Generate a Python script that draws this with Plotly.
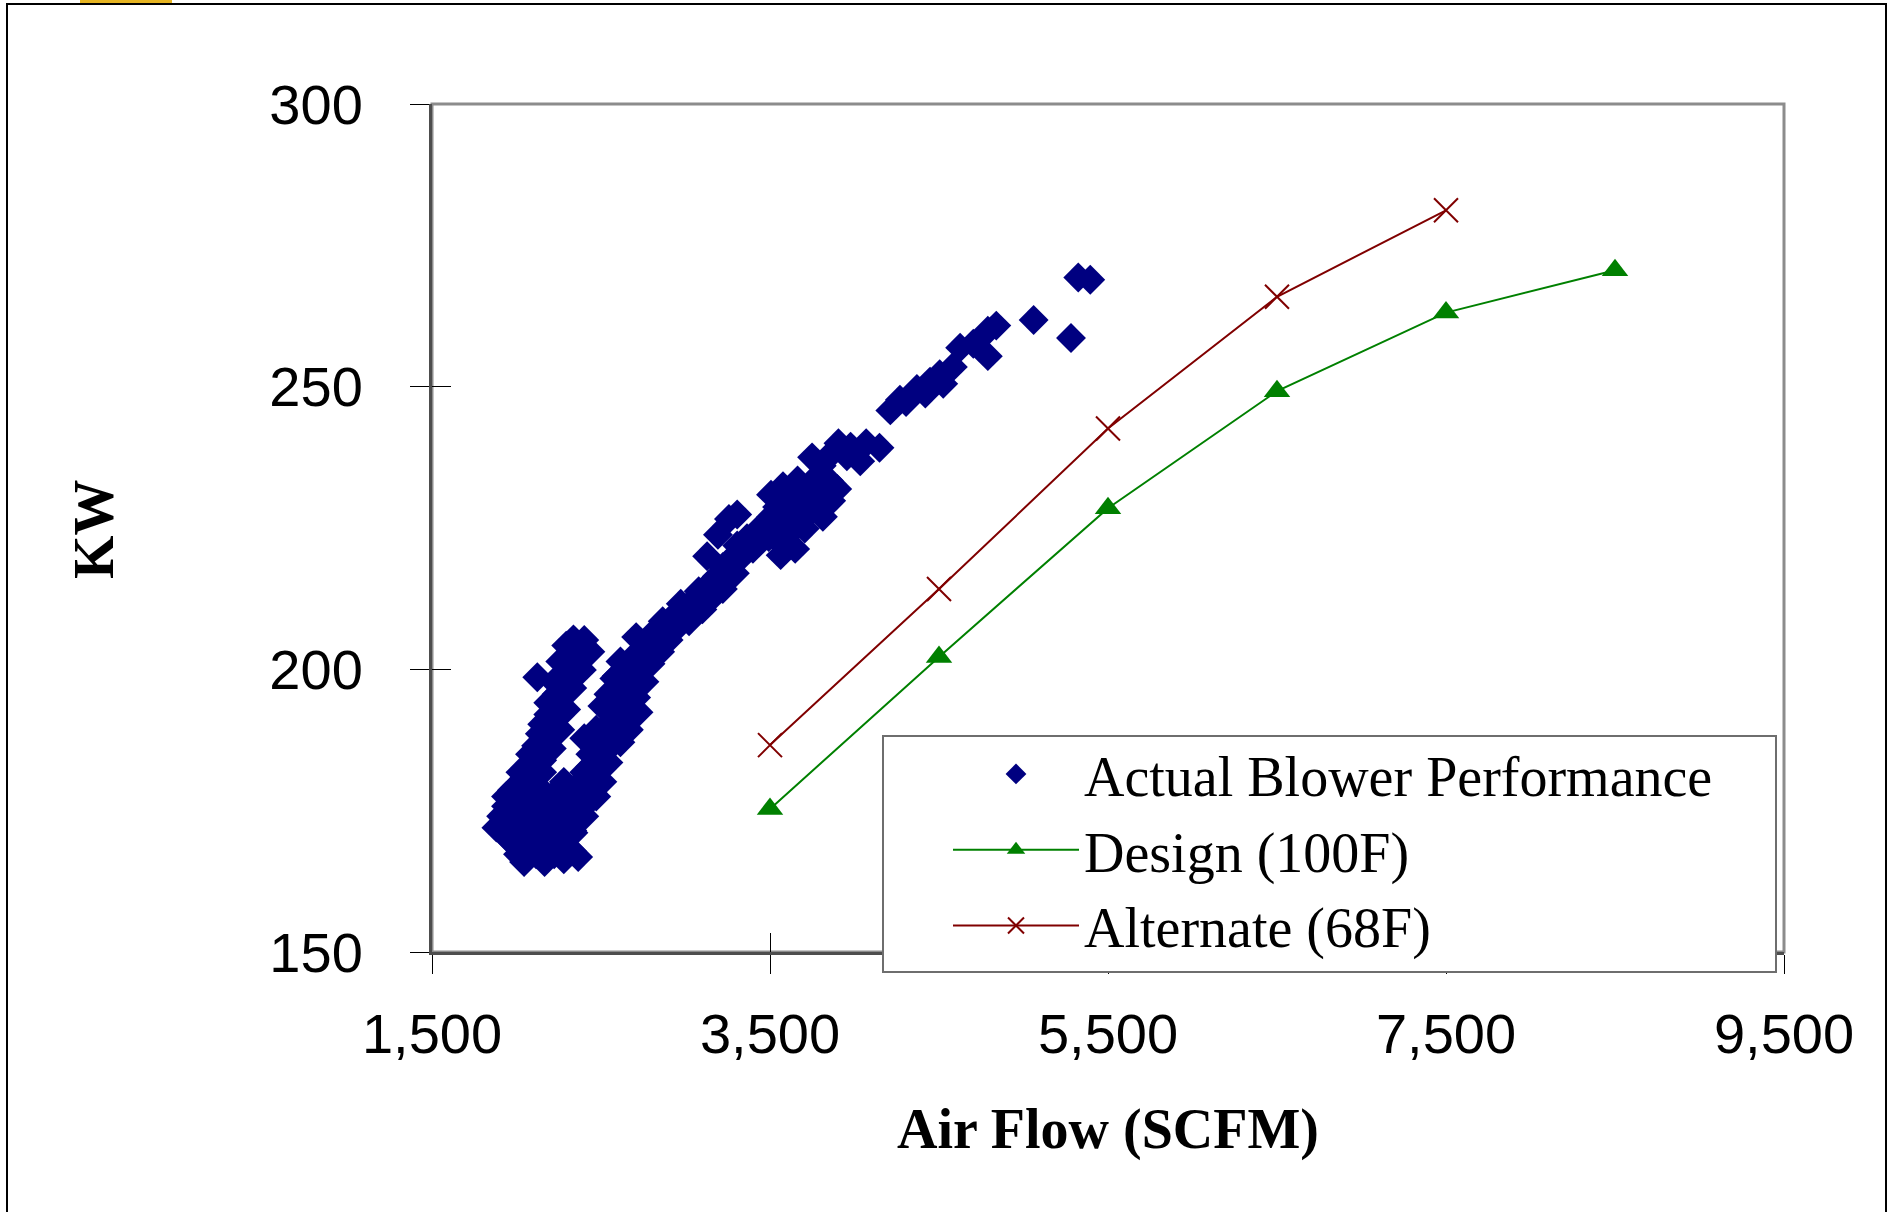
import plotly.graph_objects as go

# ---------------- data ----------------
actual_x = [
    5324, 5395, 5060, 5281, 4839, 4789, 4703, 4625, 4789, 4582, 4504, 4447, 4525, 4369, 4419, 4269, 4212, 4305,
    3905, 3977, 4069, 4148, 4034, 3955, 3862, 3749, 3806,
    3506, 3577, 3663, 3756, 3848, 3898, 3542, 3613, 3706, 3791, 3862, 3577, 3663, 3756, 3813, 3506, 3542, 3627,
    3706, 3577, 3649, 3563, 3492, 3449,
    3306, 3257, 3192, 3128, 3420, 3364, 3306, 3399, 3328, 3257, 3221, 3292, 3185, 3135, 3221, 3078, 3150, 3043,
    3100, 2993, 2936, 3021, 2936, 2865, 2829, 2900, 2793, 2850, 2757, 2708, 2686, 2793, 2722, 2651, 2757, 2665,
    2593, 2708, 2636, 2722, 2615, 2665,
    2972, 2900, 2757, 2686, 2615, 2615, 2579, 2544, 2579,
    2579, 2508, 2544, 2472, 2615, 2508, 2437, 2544, 2472, 2401, 2365, 2508, 2437, 2330, 2401, 2294, 2365, 2259, 2401,
    2636, 2565, 2494, 2437, 2351, 2308, 2237,
    2351, 2423, 2472, 2401, 2330, 2280, 2437, 2544, 2593, 2508,
    2337, 2401, 2294, 2437, 2351, 2259, 2387, 2294, 2223, 2330, 2259, 2188, 2294, 2209, 2152, 2259, 2166, 2116,
    2209, 2116, 2066, 2152, 2045, 1995, 2080, 1938, 2009, 1938, 1909, 1973, 1881, 1945, 2123,
    2365, 2308, 2237, 2188, 2138, 2080, 2023, 1973,
    2237, 2202, 2188, 2152, 2080,
    2080, 2188, 2138, 2223, 2045, 1973, 2080, 2188, 2294, 2009, 2116, 2223, 2330, 2045, 2166, 2280, 2365,
    2116, 2209, 2138, 2009, 2116, 2209, 1938, 2152, 2259, 2066, 2337, 2280,
]
actual_kw = [
    269.3, 268.9, 261.8, 258.6, 260.8, 259.9, 257.6, 256.9, 255.4, 253.5, 252.2, 250.9, 250.5, 249.6, 248.8, 247.7, 245.8, 247.3,
    240.0, 239.4, 240.0, 239.2, 236.8, 237.7, 238.1, 237.5, 236.0,
    230.9, 232.4, 233.4, 233.4, 233.4, 231.9, 228.7, 229.8, 230.9, 230.9, 229.8, 226.2, 227.6, 228.3, 227.0, 227.0, 224.4, 224.4,
    224.9, 221.9, 221.3, 220.2, 223.4, 224.4,
    227.4, 226.6, 223.8, 220.0, 224.4, 223.2, 221.9, 221.3, 219.8, 219.1, 218.1, 217.0, 216.4, 214.9, 214.2, 213.8, 212.5, 212.1,
    210.6, 210.6, 209.5, 208.5, 207.0, 208.5, 207.0, 205.2, 205.2, 203.1, 203.5, 205.7, 202.0, 201.0, 199.9, 199.9, 197.8, 197.8,
    198.8, 195.0, 194.6, 192.4, 191.4, 189.3,
    211.6, 208.5, 202.0, 198.8, 196.7, 201.4, 198.4, 195.6, 192.9,
    195.6, 193.5, 190.3, 189.3, 187.1, 186.0, 185.0, 183.5, 181.8, 181.8, 179.6, 180.1, 177.9, 177.5, 175.8, 174.9, 173.2, 172.1, 187.8,
    192.0, 187.8, 183.9, 180.7, 176.4, 173.2, 174.3,
    178.6, 179.6, 177.5, 174.0, 171.5, 170.0, 182.8, 186.0, 189.3, 187.8,
    205.3, 205.2, 204.2, 203.1, 202.0, 201.4, 199.9, 198.8, 197.8, 196.7, 195.0, 194.1, 192.9, 191.4, 190.3, 189.3, 187.8, 186.5,
    186.0, 183.9, 182.8, 181.8, 180.7, 179.2, 178.6, 177.5, 176.4, 175.8, 174.0, 173.6, 172.0, 170.3, 198.6,
    203.5, 200.5, 195.6, 192.0, 188.6, 185.0, 181.8, 178.6,
    192.6, 189.3, 186.0, 183.9, 180.1,
    175.4, 176.4, 173.2, 171.1, 171.1, 169.4, 169.0, 169.0, 170.0, 167.3, 167.3, 167.3, 167.8, 165.9, 165.9, 166.4, 166.8,
    179.6, 177.5, 175.8, 174.0, 171.1, 173.2, 171.5, 167.5, 169.0, 167.8, 171.1, 180.1,
]

design_x = [3500, 4500, 5500, 6500, 7500, 8500]
design_kw = [175.3, 202.2, 228.5, 249.2, 263.1, 270.6]

alternate_x = [3500, 4500, 5500, 6500, 7500]
alternate_kw = [186.6, 214.2, 242.6, 265.9, 281.2]

x_ticks = [1500, 3500, 5500, 7500, 9500]
y_ticks = [150, 200, 250, 300]

# ---------------- layout geometry (pixels) ----------------
W, H = 1889, 1212
L, R, T, B = 432, 1784, 104, 952
PW, PH = R - L, B - T


def px(xp):
    return (xp - L) / PW


def py(yp):
    return (B - yp) / PH


fig = go.Figure()

fig.add_trace(go.Scatter(
    x=actual_x, y=actual_kw, mode="markers", name="Actual Blower Performance",
    marker=dict(symbol="diamond", size=23, color="#000080", line=dict(width=0)),
))
fig.add_trace(go.Scatter(
    x=design_x, y=design_kw, mode="lines+markers", name="Design (100F)",
    line=dict(color="#008000", width=2),
    marker=dict(symbol="triangle-up", size=23, color="#008000"),
))
fig.add_trace(go.Scatter(
    x=alternate_x, y=alternate_kw, mode="lines+markers", name="Alternate (68F)",
    line=dict(color="#800000", width=2),
    marker=dict(symbol="x-thin", size=24, color="#800000", line=dict(color="#800000", width=2)),
))
# carrier for the inner half of the crossing tick marks
fig.add_trace(go.Scatter(x=[], y=[], xaxis="x2", yaxis="y2", showlegend=False, hoverinfo="skip"))

tick_font = dict(family="Liberation Sans, Arial", size=56, color="black")

fig.update_layout(
    width=W, height=H, autosize=False,
    margin=dict(l=L, r=W - R, t=T, b=H - B, pad=0),
    paper_bgcolor="white", plot_bgcolor="white",
    showlegend=True,
    xaxis=dict(
        range=[1500, 9500], tickvals=x_ticks, ticktext=[f"{v:,}" for v in x_ticks],
        ticks="outside", ticklen=19, tickwidth=1, tickcolor="black",
        showline=True, linecolor="#4d4d4d", linewidth=3,
        showgrid=False, zeroline=False, tickfont=tick_font, ticklabelstandoff=12,
    ),
    yaxis=dict(
        range=[150, 300], tickvals=y_ticks,
        ticks="outside", ticklen=19, tickwidth=1, tickcolor="black",
        showline=True, linecolor="#4d4d4d", linewidth=3,
        showgrid=False, zeroline=False, tickfont=tick_font, ticklabelstandoff=36,
    ),
    xaxis2=dict(
        range=[1500, 9500], tickvals=x_ticks, overlaying="x", anchor="y2", side="bottom",
        ticks="inside", ticklen=19, tickwidth=1, tickcolor="black",
        showticklabels=False, showline=False, showgrid=False, zeroline=False,
    ),
    yaxis2=dict(
        range=[150, 300], tickvals=y_ticks, overlaying="y", anchor="x2", side="left",
        ticks="inside", ticklen=19, tickwidth=1, tickcolor="black",
        showticklabels=False, showline=False, showgrid=False, zeroline=False,
    ),
    legend=dict(
        x=px(948), y=py(731), xanchor="left", yanchor="top",
        bgcolor="rgba(0,0,0,0)", borderwidth=0, itemwidth=126,
        font=dict(family="Liberation Serif, Times New Roman", size=56, color="black"),
        tracegroupgap=0,
    ),
)

title_font = dict(family="Liberation Serif, Times New Roman", size=56, color="black")
fig.add_annotation(text="<b>Air Flow (SCFM)</b>", xref="paper", yref="paper",
                   x=px(1108), y=py(1129), xanchor="center", yanchor="middle",
                   showarrow=False, font=title_font)
fig.add_annotation(text="<b>KW</b>", xref="paper", yref="paper",
                   x=px(94), y=py(529), xanchor="center", yanchor="middle",
                   textangle=-90, showarrow=False, font=title_font)

shapes = [
    # gray plot border (top/right)
    dict(type="rect", xref="paper", yref="paper", x0=0, x1=1, y0=0, y1=1,
         line=dict(color="#8c8c8c", width=3), fillcolor="rgba(0,0,0,0)", layer="below"),
    # outer chart frame
    dict(type="rect", xref="paper", yref="paper", x0=px(7), x1=px(1886), y0=py(1220), y1=py(4),
         line=dict(color="black", width=2), fillcolor="rgba(0,0,0,0)", layer="above"),
    # small yellow mark at top edge
    dict(type="rect", xref="paper", yref="paper", x0=px(80), x1=px(172), y0=py(3), y1=py(0),
         line=dict(width=0), fillcolor="#e6b422", layer="above"),
    # legend box
    dict(type="rect", xref="paper", yref="paper", x0=px(883), x1=px(1776), y0=py(972), y1=py(736),
         line=dict(color="#6e6e6e", width=2), fillcolor="white", layer="above"),
]
fig.update_layout(shapes=shapes)

fig.write_html("out.html")
